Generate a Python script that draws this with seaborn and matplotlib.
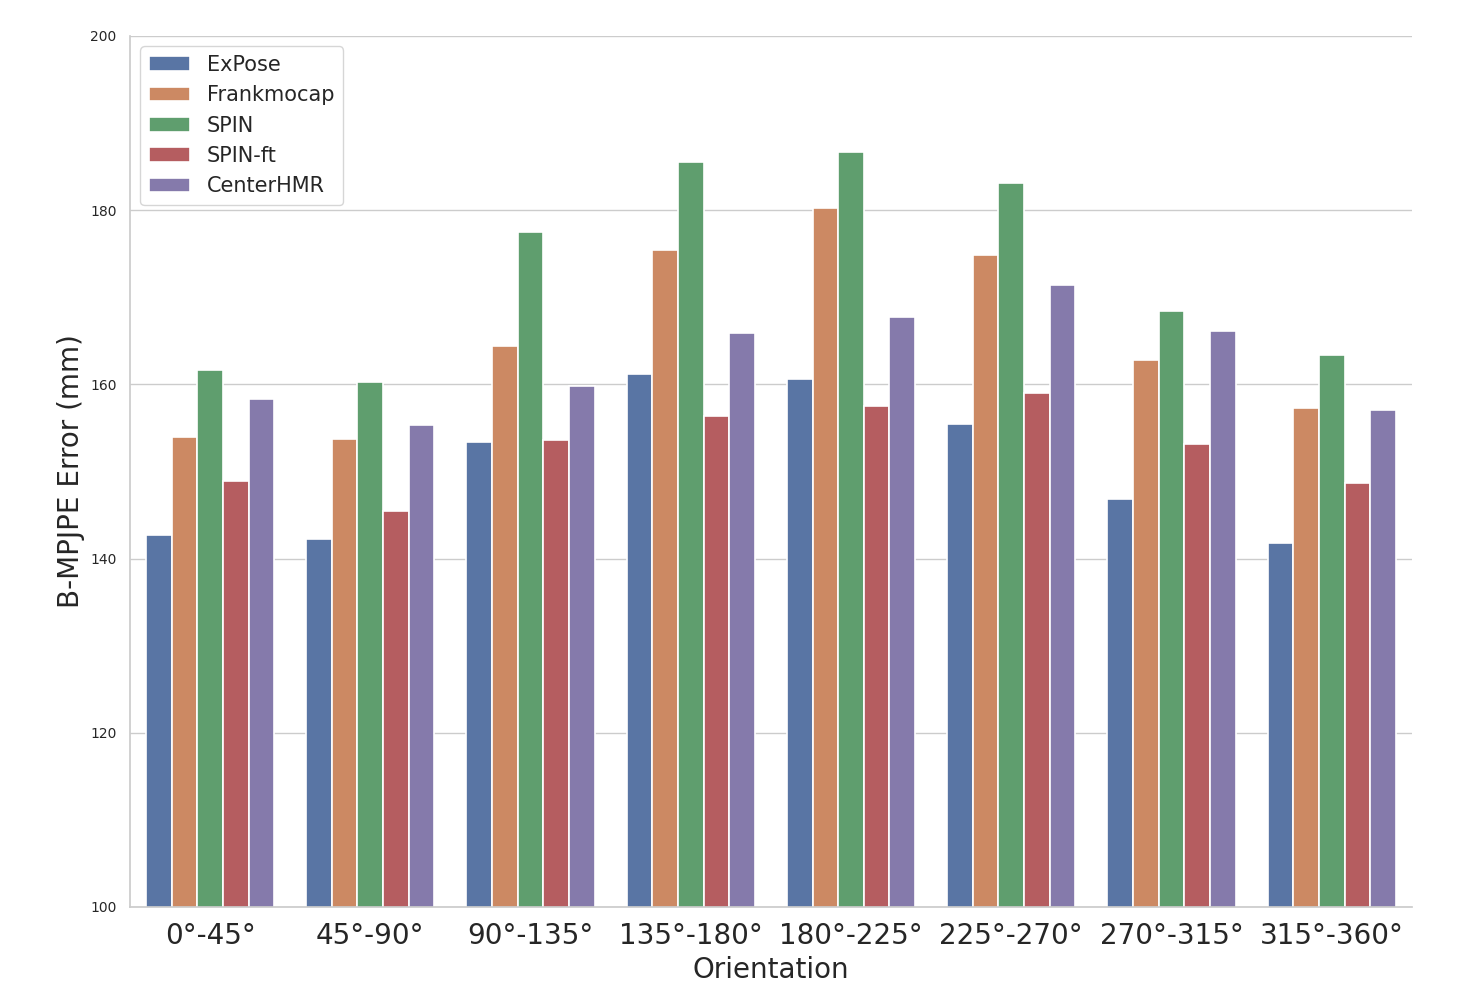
import numpy as np
import pandas as pd
import seaborn as sns
import matplotlib.pyplot as plt

orientations = ['0°-45°', '45°-90°', '90°-135°', '135°-180°',
                '180°-225°', '225°-270°', '270°-315°', '315°-360°']
methods = ['ExPose', 'Frankmocap', 'SPIN', 'SPIN-ft', 'CenterHMR']

expose = [142.7, 142.3, 153.4, 161.2, 160.6, 155.5, 146.8, 141.8]
frankmocap = [154.0, 153.7, 164.4, 175.4, 180.3, 174.9, 162.8, 157.3]
spin = [161.7, 160.3, 177.5, 185.5, 186.7, 183.1, 168.4, 163.4]
spin_ft = [148.9, 145.5, 153.6, 156.4, 157.5, 159.0, 153.2, 148.7]
centerhmr = [158.3, 155.3, 159.8, 165.9, 167.7, 171.4, 166.1, 157.1]

values = [expose, frankmocap, spin, spin_ft, centerhmr]
rows = []
for m, vals in zip(methods, values):
    for o, v in zip(orientations, vals):
        rows.append({'Orientation': o, 'Method': m, 'Error': v})
df = pd.DataFrame(rows)

sns.set_theme(style='whitegrid')
fig, ax = plt.subplots(figsize=(14.6, 10), dpi=100)
fig.subplots_adjust(left=0.089, right=0.967, top=0.964, bottom=0.093)

sns.barplot(data=df, x='Orientation', y='Error', hue='Method',
            order=orientations, hue_order=methods, ax=ax,
            edgecolor='white', linewidth=1.2)
ax.set_ylim(100, 200)
ax.set_yticks([100, 120, 140, 160, 180, 200])
ax.tick_params(axis='y', labelsize=10)
ax.tick_params(axis='x', labelsize=20, pad=5)
ax.set_xlabel('Orientation', fontsize=20, labelpad=4)
ax.set_ylabel('B-MPJPE Error (mm)', fontsize=20)
ax.legend(loc='upper left', fontsize=15, title=None)
sns.despine(ax=ax)
for s in ['left', 'bottom']:
    ax.spines[s].set_color('#cccccc')

fig.savefig('out.png')
